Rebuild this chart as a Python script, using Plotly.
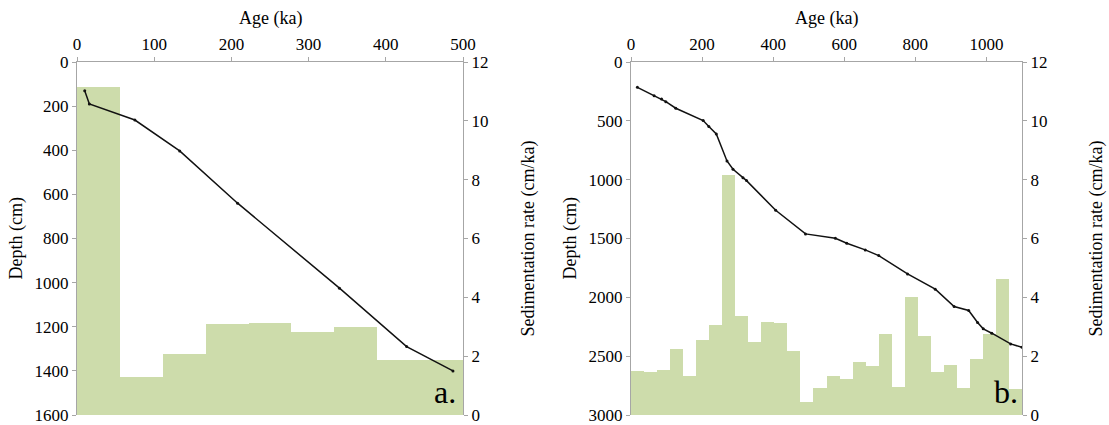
import plotly.graph_objects as go

# ---------------- data ----------------
# Panel a: age-depth points
age_a = [10, 16, 75, 133, 208, 340, 427, 487]
depth_a = [130, 190, 263, 403, 640, 1025, 1290, 1400]
# Panel a: sedimentation rate bars (equal-width bins spanning the age axis 0-500 ka)
rate_a = [11.15, 1.30, 2.07, 3.10, 3.12, 2.82, 2.98, 1.87, 1.87]
age_span_a = 500

# Panel b: age-depth points
age_b = [18, 65, 86, 98, 126, 203, 219, 240, 270, 287, 315, 325, 407, 491,
         575, 607, 659, 697, 778, 856, 909, 950, 975, 991, 1015, 1068, 1100]
depth_b = [215, 286, 314, 337, 393, 498, 549, 612, 841, 912, 983, 1008, 1260, 1461,
           1498, 1540, 1597, 1645, 1801, 1931, 2078, 2112, 2214, 2268, 2305, 2396, 2425]
# Panel b: sedimentation rate bars (equal-width bins spanning the age axis 0-1100 ka)
rate_b = [1.51, 1.47, 1.54, 2.24, 1.33, 2.54, 3.06, 8.16, 3.37, 2.48,
          3.17, 3.12, 2.18, 0.44, 0.93, 1.34, 1.22, 1.80, 1.68, 2.74,
          0.94, 4.00, 2.69, 1.47, 1.70, 0.93, 1.91, 2.76, 4.61, 0.87]
age_span_b = 1100

# ---------------- styling ----------------
FONT = "Liberation Serif, DejaVu Serif, Times New Roman, serif"
BAR = "#cddcab"
AXC = "#a6a6a6"
W, H = 1109, 425


def centers(n, span):
    w = span / n
    return [w * (i + 0.5) for i in range(n)], w


fig = go.Figure()

xa, wa = centers(len(rate_a), age_span_a)
fig.add_trace(go.Bar(x=xa, y=rate_a, width=wa, marker=dict(color=BAR, line=dict(width=0)),
                     xaxis="x", yaxis="y", showlegend=False))
fig.add_trace(go.Scatter(x=age_a, y=depth_a, mode="lines+markers",
                         line=dict(color="#111111", width=1.5),
                         marker=dict(size=3, color="#111111"),
                         xaxis="x", yaxis="y2", showlegend=False))

xb, wb = centers(len(rate_b), age_span_b)
fig.add_trace(go.Bar(x=xb, y=rate_b, width=wb, marker=dict(color=BAR, line=dict(width=0)),
                     xaxis="x2", yaxis="y3", showlegend=False))
fig.add_trace(go.Scatter(x=age_b, y=depth_b, mode="lines+markers",
                         line=dict(color="#111111", width=1.5),
                         marker=dict(size=3, color="#111111"),
                         xaxis="x2", yaxis="y4", showlegend=False, cliponaxis=True))

# plot-area pixel boxes
L1, R1 = 77, 463
L2, R2 = 631, 1022
T, B = 62, 415
ydom = [(H - B) / H, (H - T) / H]

tick_font = dict(family=FONT, size=17, color="black")
common = dict(showgrid=False, zeroline=False, showline=True, linecolor=AXC, linewidth=1,
              ticks="outside", ticklen=4, tickcolor=AXC, tickfont=tick_font,
              automargin=False)

fig.update_layout(
    width=W, height=H, margin=dict(l=0, r=0, t=0, b=0, autoexpand=False),
    paper_bgcolor="white", plot_bgcolor="rgba(0,0,0,0)",
    bargap=0, font=dict(family=FONT, color="black"),
    xaxis=dict(domain=[L1 / W, R1 / W], range=[0, 500], dtick=100, side="top",
               anchor="y2", **common),
    yaxis=dict(domain=ydom, range=[0, 12], dtick=2, side="right", anchor="x", **common),
    yaxis2=dict(domain=ydom, range=[1600, 0], dtick=200, side="left", overlaying="y",
                anchor="x", **common),
    xaxis2=dict(domain=[L2 / W, R2 / W], range=[0, 1100], dtick=200, side="top",
                anchor="y4", **common),
    yaxis3=dict(domain=ydom, range=[0, 12], dtick=2, side="right", anchor="x2", **common),
    yaxis4=dict(domain=ydom, range=[3000, 0], dtick=500, side="left", overlaying="y3",
                anchor="x2", **common),
)

title_font = dict(family=FONT, size=18, color="black")
ymid = 1 - ((T + B) / 2) / H
ann = [
    dict(text="Age (ka)", x=(L1 + R1) / 2 / W, y=1 - 18 / H),
    dict(text="Age (ka)", x=(L2 + R2) / 2 / W, y=1 - 18 / H),
    dict(text="Depth (cm)", x=16 / W, y=ymid, textangle=-90),
    dict(text="Depth (cm)", x=570 / W, y=ymid, textangle=-90),
    dict(text="Sedimentation rate (cm/ka)", x=528 / W, y=ymid, textangle=-90),
    dict(text="Sedimentation rate (cm/ka)", x=1096 / W, y=ymid, textangle=-90),
]
for a in ann:
    fig.add_annotation(xref="paper", yref="paper", showarrow=False,
                       xanchor="center", yanchor="middle", font=title_font, **a)

fig.add_annotation(text="a.", xref="paper", yref="paper", x=445 / W, y=1 - 392 / H,
                   showarrow=False, xanchor="center", yanchor="middle",
                   font=dict(family=FONT, size=32, color="black"))
fig.add_annotation(text="b.", xref="paper", yref="paper", x=1006 / W, y=1 - 392 / H,
                   showarrow=False, xanchor="center", yanchor="middle",
                   font=dict(family=FONT, size=32, color="black"))

fig.write_html("out.html", config={"displayModeBar": False},
               post_script="document.body.style.margin='0';document.body.style.overflow='hidden';")
